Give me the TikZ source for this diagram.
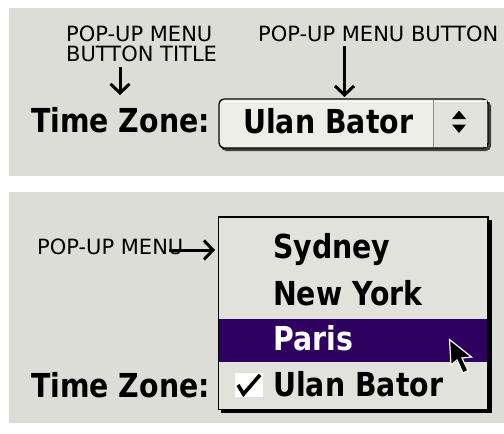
\documentclass[tikz,border=0pt]{standalone}
\usepackage{fontspec}
\setmainfont{DejaVu Sans}
\usepackage{graphicx}
\usetikzlibrary{arrows.meta}
\definecolor{panel}{RGB}{221,221,215}
\definecolor{menufill}{RGB}{226,226,221}
\definecolor{btnfill}{RGB}{238,238,232}
\definecolor{hilite}{RGB}{46,0,96}
\newcommand\chic[1]{\scalebox{0.86}[1]{\fontsize{33}{33}\selectfont\bfseries #1}}
\tikzset{
  lbl/.style={inner sep=0pt, font=\fontsize{21}{20}\selectfont, align=left},
  uitxt/.style={inner sep=0pt, anchor=base west},
  callout/.style={line width=3pt, -{Straight Barb[length=9pt,width=19pt,line width=3pt]}},
}
\begin{document}
\begin{tikzpicture}[x=1pt,y=-1pt]
\useasboundingbox (0,0) rectangle (504,434);
% panels
\fill[panel] (9,8) rectangle (504,176);
\fill[panel] (9,192) rectangle (504,423);

% ---------- top panel ----------
\node[lbl, anchor=base west] (t1) at (66,61.7) {POP-UP MENU\\BUTTON TITLE};
\node[lbl, anchor=base west] (t2) at (258,41.7) {POP-UP MENU BUTTON};
\node[uitxt] (tz1) at (31,132) {\chic{Time Zone:}};
% button
\fill[black!75, rounded corners=5pt] (221,101) rectangle (491,151);
\draw[line width=1.3pt, fill=btnfill, rounded corners=5pt] (219,99) rectangle (488,148);
\fill[panel!70!btnfill] (434,100) rectangle (487,147);
\draw[white, line width=1pt] (221,101) -- (486,101);
\draw[black!45, line width=1pt] (433.5,100) -- (433.5,147);
\node[uitxt] (btn) at (243,133) {\chic{Ulan Bator}};
\fill (452,119) -- (466,119) -- (459,110.5) -- cycle;
\fill (452,124.5) -- (466,124.5) -- (459,133) -- cycle;
\coordinate (btntop) at (344.5,97);
\coordinate (tztop) at (120,95);
\coordinate (a1s) at (120,67);
\coordinate (a2s) at (344.5,46);
\draw[callout] (a1s) -- (tztop);
\draw[callout] (a2s) -- (btntop);

% ---------- bottom panel ----------
\node[lbl, anchor=base west] (t3) at (37,254.3) {POP-UP MENU};
\node[uitxt] (tz2) at (31,397) {\chic{Time Zone:}};
% menu
\fill[black] (221,220) rectangle (492,413);
\draw[line width=1.3pt, fill=menufill] (218.5,217) rectangle (488,409.5);
\fill[hilite] (219.2,319.3) rectangle (487.3,362.3);
\node[uitxt] (m1) at (273,258) {\chic{Sydney}};
\node[uitxt] (m2) at (273,305) {\chic{New York}};
\node[uitxt] (m3) at (273,350) {\color{white}\chic{Paris}};
\node[uitxt] (m4) at (273,396.5) {\chic{Ulan Bator}};
% check mark
\fill[white] (235,372.7) rectangle (263.3,397.3);
\draw[line width=3.6pt, line join=miter] (238,385) -- (243.5,394) -- (260,375);
% cursor
\draw[white, line width=1.2pt, fill=black, line join=miter]
  (449.5,339.5) -- (451,365) -- (457,360) -- (463,373) -- (468,370.5) -- (462,358) -- (471.5,357) -- cycle;
\coordinate (a3s) at (169,250);
\coordinate (menuleft) at (215,250);
\draw[callout] (a3s) -- (menuleft);
\end{tikzpicture}
\end{document}
